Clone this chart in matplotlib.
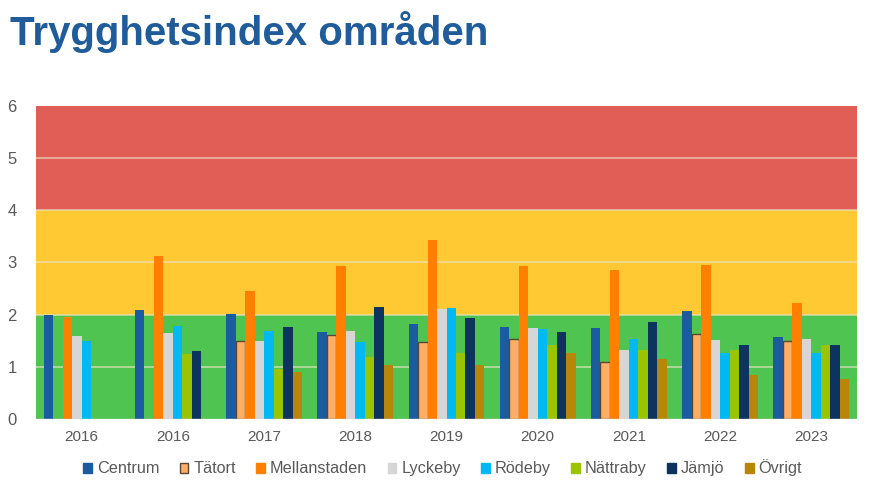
import numpy as np
import matplotlib
matplotlib.use("Agg")
import matplotlib.pyplot as plt
from matplotlib.patches import Patch

plt.rcParams['font.family'] = ['Liberation Sans', 'DejaVu Sans']

years = ["2016", "2016", "2017", "2018", "2019", "2020", "2021", "2022", "2023"]
series_names = ["Centrum", "Tätort", "Mellanstaden", "Lyckeby", "Rödeby",
                "Nättraby", "Jämjö", "Övrigt"]

# nan = no bar that year
nan = np.nan
centrum      = [2.00, 2.08, 2.02, 1.67, 1.83, 1.77, 1.75, 2.07, 1.57]
tatort       = [nan,  nan,  1.50, 1.61, 1.48, 1.54, 1.10, 1.62, 1.49]
mellanstaden = [1.95, 3.13, 2.45, 2.94, 3.44, 2.94, 2.85, 2.96, 2.23]
lyckeby      = [1.59, 1.65, 1.50, 1.69, 2.10, 1.75, 1.32, 1.51, 1.53]
rodeby       = [1.50, 1.79, 1.69, 1.48, 2.13, 1.72, 1.53, 1.27, 1.27]
nattraby     = [nan,  1.25, 0.95, 1.18, 1.26, 1.42, 1.32, 1.32, 1.42]
jamjo        = [nan,  1.30, 1.77, 2.15, 1.94, 1.67, 1.85, 1.41, 1.42]
ovrigt       = [nan,  nan,  0.91, 1.03, 1.03, 1.26, 1.15, 0.84, 0.77]

all_series = [centrum, tatort, mellanstaden, lyckeby, rodeby, nattraby, jamjo, ovrigt]
colors = ["#1B5BA0", "#FFAE66", "#FF7F00", "#D6D6D6", "#00B9F2",
          "#9BC400", "#0D345E", "#B8860B"]
edges = [None, "#5A4636", None, None, None, None, None, None]

fig = plt.figure(figsize=(8.71, 4.94), dpi=100)
ax = fig.add_axes([36/871, 1-419/494, (857-36)/871, (419-106)/494])

x = np.arange(len(years))
w = 0.104

ax.set_xlim(-0.5, len(years)-0.5)
ax.set_ylim(0, 6)

# background zones
ax.axhspan(0, 2, color="#50C450", zorder=0, lw=0)
ax.axhspan(2, 4, color="#FFC933", zorder=0, lw=0)
ax.axhspan(4, 6, color="#E05E55", zorder=0, lw=0)
for yv in [1, 2, 3, 4, 5]:
    ax.axhline(yv, color="#EDE3C8", lw=1.2, alpha=0.7, zorder=1)

for i, (vals, c, ec) in enumerate(zip(all_series, colors, edges)):
    vals = np.array(vals, dtype=float)
    pos = x + (i - 3.5) * w
    m = ~np.isnan(vals)
    if ec:
        ax.bar(pos[m], vals[m], width=w, color=c, edgecolor=ec, linewidth=1.0, zorder=3)
    else:
        ax.bar(pos[m], vals[m], width=w, color=c, linewidth=0, zorder=3)

ax.set_xticks(x)
ax.set_xticklabels(years, fontsize=11, color="#595959")
ax.set_yticks(range(7))
ax.set_yticklabels([str(v) for v in range(7)], fontsize=12, color="#595959")
ax.tick_params(axis='both', length=0, pad=8)
ax.tick_params(axis='y', pad=14)
for s in ax.spines.values():
    s.set_visible(False)
ax.axhline(0, color="#D9D9D9", lw=1, zorder=4)

handles = [Patch(facecolor=c, edgecolor=(ec if ec else c)) for c, ec in zip(colors, edges)]
fig.legend(handles, series_names, loc="center", bbox_to_anchor=(0.508, 1-468/494),
           ncol=8, frameon=False, fontsize=11.7, handlelength=0.55, handleheight=0.55,
           handletextpad=0.3, columnspacing=1.25, labelcolor="#595959")

fig.text(10/871, 1-32/494, "Trygghetsindex områden", fontsize=29, fontweight="bold",
         color="#1F5C99", va="center", ha="left")

fig.savefig("out.png", dpi=100)
